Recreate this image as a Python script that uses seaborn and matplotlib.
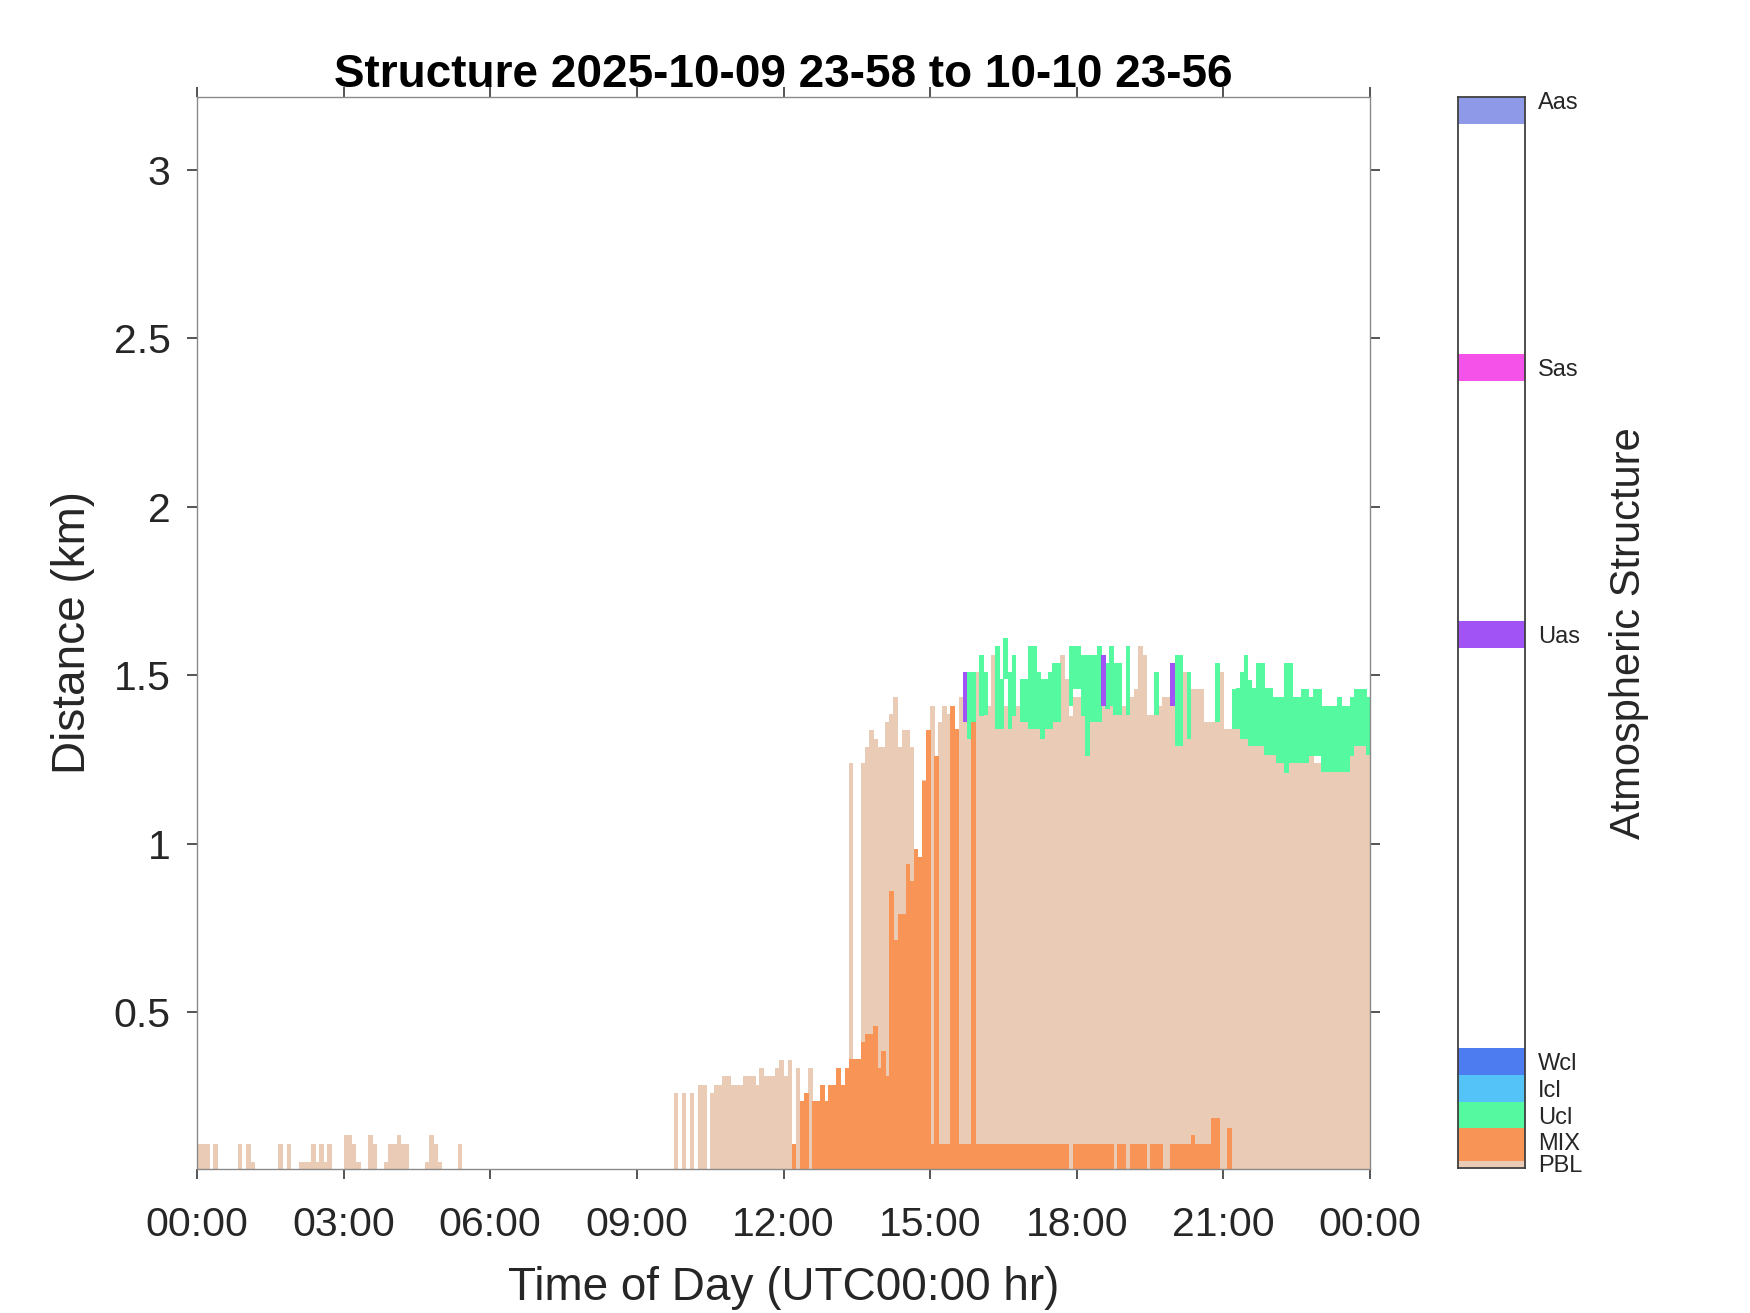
import numpy as np
import matplotlib
matplotlib.use('Agg')
import matplotlib.pyplot as plt
import seaborn as sns

# one column every 5 minutes from 00:00 to 24:00 (288 columns), heights in km
# top of the PBL (beige) layer, 0 = no data
pbl_top = [
    0.107, 0.107, 0.107, 0, 0.107, 0, 0, 0, 0, 0, 0.107, 0,                       # 00
    0.107, 0.055, 0, 0, 0, 0, 0, 0, 0.107, 0, 0.107, 0,                           # 01
    0, 0.055, 0.055, 0.055, 0.107, 0.055, 0.107, 0.055, 0.107, 0, 0, 0,           # 02
    0.135, 0.135, 0.107, 0.055, 0, 0, 0.135, 0.107, 0, 0, 0.055, 0.107,           # 03
    0.107, 0.135, 0.107, 0.107, 0, 0, 0, 0, 0.055, 0.135, 0.107, 0.055,           # 04
    0, 0, 0, 0, 0.107, 0, 0, 0, 0, 0, 0, 0,                                       # 05
    0, 0, 0, 0, 0, 0, 0, 0, 0, 0, 0, 0,                                           # 06
    0, 0, 0, 0, 0, 0, 0, 0, 0, 0, 0, 0,                                           # 07
    0, 0, 0, 0, 0, 0, 0, 0, 0, 0, 0, 0,                                           # 08
    0, 0, 0, 0, 0, 0, 0, 0, 0, 0.259, 0, 0.259,                                   # 09
    0, 0.259, 0, 0.284, 0.284, 0, 0.259, 0.284, 0.284, 0.31, 0.31, 0.284,         # 10
    0.284, 0.284, 0.31, 0.31, 0.31, 0.284, 0.334, 0.31, 0.31, 0.31, 0.334, 0.359, # 11
    0.31, 0.359, 0, 0.334, 0, 0, 0.334, 0, 0, 0, 0, 0,                            # 12
    0, 0, 0, 0, 1.24, 0, 0, 1.24, 1.286, 1.337, 1.31, 1.286,                      # 13
    1.286, 1.36, 1.385, 1.435, 1.286, 1.337, 1.337, 1.286, 0, 0, 1.19, 0,         # 14
    1.41, 0, 1.36, 1.41, 1.385, 0, 0, 1.435, 1.36, 1.31, 0, 1.51,                 # 15
    1.38, 1.41, 1.41, 1.56, 1.34, 1.34, 1.41, 1.34, 1.38, 1.41, 1.36, 1.36,       # 16
    1.34, 1.34, 1.34, 1.31, 1.34, 1.34, 1.36, 1.36, 1.56, 1.49, 1.38, 1.435,      # 17
    1.435, 1.38, 1.26, 1.36, 1.36, 1.36, 1.41, 1.40, 1.41, 1.383, 1.383, 1.41,    # 18
    1.383, 1.435, 1.46, 1.586, 1.56, 1.383, 1.383, 1.383, 1.41, 1.435, 1.435, 1.41,  # 19
    1.29, 1.29, 1.51, 1.31, 1.46, 1.46, 1.46, 1.36, 1.36, 1.36, 1.36, 1.51,       # 20
    1.34, 1.34, 1.34, 1.34, 1.31, 1.31, 1.29, 1.29, 1.29, 1.29, 1.262, 1.262,     # 21
    1.262, 1.24, 1.24, 1.21, 1.24, 1.24, 1.24, 1.24, 1.24, 1.26, 1.24, 1.24,      # 22
    1.213, 1.213, 1.213, 1.213, 1.213, 1.213, 1.213, 1.26, 1.29, 1.29, 1.29, 1.262,  # 23
]

# top of the mixing layer (orange), 0 = none
mix_top = [
    0, 0, 0, 0, 0, 0, 0, 0, 0, 0, 0, 0,                                           # 00
    0, 0, 0, 0, 0, 0, 0, 0, 0, 0, 0, 0,                                           # 01
    0, 0, 0, 0, 0, 0, 0, 0, 0, 0, 0, 0,                                           # 02
    0, 0, 0, 0, 0, 0, 0, 0, 0, 0, 0, 0,                                           # 03
    0, 0, 0, 0, 0, 0, 0, 0, 0, 0, 0, 0,                                           # 04
    0, 0, 0, 0, 0, 0, 0, 0, 0, 0, 0, 0,                                           # 05
    0, 0, 0, 0, 0, 0, 0, 0, 0, 0, 0, 0,                                           # 06
    0, 0, 0, 0, 0, 0, 0, 0, 0, 0, 0, 0,                                           # 07
    0, 0, 0, 0, 0, 0, 0, 0, 0, 0, 0, 0,                                           # 08
    0, 0, 0, 0, 0, 0, 0, 0, 0, 0, 0, 0,                                           # 09
    0, 0, 0, 0, 0, 0, 0, 0, 0, 0, 0, 0,                                           # 10
    0, 0, 0, 0, 0, 0, 0, 0, 0, 0, 0, 0,                                           # 11
    0, 0, 0.109, 0, 0.235, 0.26, 0, 0.235, 0.235, 0.284, 0.235, 0.284,            # 12
    0.284, 0.334, 0.284, 0.334, 0.36, 0.36, 0.36, 0.41, 0.436, 0.436, 0.46, 0.334,  # 13
    0.385, 0.31, 0.86, 0.713, 0.79, 0.79, 0.94, 0.89, 0.985, 0.96, 1.185, 1.337,  # 14
    0.109, 1.26, 0.109, 0.109, 0.109, 1.41, 1.34, 0.109, 0.109, 0.109, 1.36, 0.109,  # 15
    0.109, 0.109, 0.109, 0.109, 0.109, 0.109, 0.109, 0.109, 0.109, 0.109, 0.109, 0.109,  # 16
    0.109, 0.109, 0.109, 0.109, 0.109, 0.109, 0.109, 0.109, 0.109, 0.109, 0, 0.109,  # 17
    0.109, 0.109, 0.109, 0.109, 0.109, 0.109, 0.109, 0.109, 0.109, 0, 0.109, 0.109,  # 18
    0, 0.109, 0.109, 0.109, 0.109, 0, 0.109, 0.109, 0.109, 0, 0, 0.109,           # 19
    0.109, 0.109, 0.109, 0.109, 0.135, 0.109, 0.109, 0.109, 0.109, 0.185, 0.185, 0,  # 20
    0, 0.157, 0, 0, 0, 0, 0, 0, 0, 0, 0, 0,                                       # 21
    0, 0, 0, 0, 0, 0, 0, 0, 0, 0, 0, 0,                                           # 22
    0, 0, 0, 0, 0, 0, 0, 0, 0, 0, 0, 0,                                           # 23
]

# undefined cloud (green) cells: 5-minute column index, bottom and top in km
ucl_col = [189, 190, 192, 193, 196, 197, 198, 199, 200, 202, 203, 204, 205, 206,
           207, 208, 209, 210, 211, 214, 215, 216, 217, 218, 219, 220, 221, 223,
           224, 225, 226, 228, 235, 240, 241, 243, 250, 254, 255, 256, 257, 258,
           259, 260, 261, 262, 263, 264, 265, 266, 267, 268, 269, 270, 271, 272,
           273, 274, 275, 276, 277, 278, 279, 280, 281, 282, 283, 284, 285, 286, 287]
ucl_lo = [1.31, 1.36, 1.38, 1.383, 1.34, 1.34, 1.49, 1.34, 1.38, 1.36, 1.36, 1.34, 1.34, 1.34,
          1.31, 1.34, 1.34, 1.36, 1.36, 1.41, 1.46, 1.46, 1.38, 1.26, 1.36, 1.36, 1.36, 1.40,
          1.41, 1.383, 1.383, 1.383, 1.383, 1.29, 1.29, 1.31, 1.36, 1.34, 1.34, 1.31, 1.31, 1.29,
          1.29, 1.29, 1.29, 1.262, 1.262, 1.262, 1.24, 1.24, 1.21, 1.24, 1.24, 1.24, 1.24, 1.24,
          1.26, 1.26, 1.26, 1.213, 1.213, 1.213, 1.213, 1.213, 1.213, 1.213, 1.26, 1.29, 1.29, 1.29, 1.262]
ucl_hi = [1.51, 1.51, 1.56, 1.51, 1.586, 1.49, 1.61, 1.51, 1.56, 1.49, 1.49, 1.586, 1.586, 1.51,
          1.49, 1.49, 1.51, 1.537, 1.537, 1.586, 1.586, 1.586, 1.56, 1.56, 1.56, 1.56, 1.586, 1.537,
          1.586, 1.537, 1.537, 1.586, 1.51, 1.56, 1.56, 1.51, 1.537, 1.46, 1.462, 1.51, 1.56, 1.487,
          1.462, 1.537, 1.537, 1.462, 1.462, 1.435, 1.435, 1.435, 1.537, 1.537, 1.435, 1.435, 1.46, 1.46,
          1.435, 1.46, 1.46, 1.41, 1.41, 1.41, 1.41, 1.435, 1.41, 1.41, 1.435, 1.46, 1.46, 1.46, 1.435]

# undefined aerosol (purple) cells
uas_col = [188, 222, 239]
uas_lo = [1.36, 1.41, 1.41]
uas_hi = [1.51, 1.56, 1.537]

# colorbar categories
cat_names = ['PBL', 'MIX', 'Ucl', 'Icl', 'Wcl', 'Uas', 'Sas', 'Aas']
cat_values = [0.2, 1, 2, 3, 4, 20, 30, 40]
cat_lo = [0.03, 0.28, 1.5, 2.5, 3.5, 19.5, 29.5, 39.13]
cat_hi = [0.28, 1.5, 2.5, 3.5, 4.5, 20.5, 30.5, 40.13]
cat_colors = ['#EACBB5', '#F89456', '#54F9A0', '#54C3F8', '#4D7CF1',
              '#A253F5', '#F552EA', '#8E99E8']
colors = dict(zip(cat_names, cat_colors))

x_hours = [0, 3, 6, 9, 12, 15, 18, 21, 24]
x_labels = ['00:00', '03:00', '06:00', '09:00', '12:00', '15:00', '18:00', '21:00', '00:00']
y_ticks = [0.5, 1, 1.5, 2, 2.5, 3]
y_labels = ['0.5', '1', '1.5', '2', '2.5', '3']

sns.set_style('white')
plt.rcParams['font.family'] = ['Liberation Sans', 'DejaVu Sans']

W, H = 1750, 1313
fig = plt.figure(figsize=(W / 100, H / 100), dpi=100)
ax = fig.add_axes([197 / W, 1 - 1169 / H, 1173 / W, 1072 / H])

step = 1 / 12
t = np.arange(len(pbl_top)) * step
# a hair wider than one column so neighbouring cells leave no seam
bar_kw = dict(width=step + 0.012, align='edge', linewidth=0, antialiased=False)

pbl = np.array(pbl_top)
m = pbl > 0
ax.bar(t[m], pbl[m], color=colors['PBL'], **bar_kw)

mix = np.array(mix_top)
m = mix > 0
ax.bar(t[m], mix[m], color=colors['MIX'], **bar_kw)

lo, hi = np.array(ucl_lo), np.array(ucl_hi)
ax.bar(np.array(ucl_col) * step, hi - lo, bottom=lo, color=colors['Ucl'], **bar_kw)

lo, hi = np.array(uas_lo), np.array(uas_hi)
ax.bar(np.array(uas_col) * step, hi - lo, bottom=lo, color=colors['Uas'], **bar_kw)

ax.set_xlim(0, 24)
ax.set_ylim(0.034, 3.217)
ax.set_xticks(x_hours, x_labels)
ax.set_yticks(y_ticks, y_labels)
ax.tick_params(axis='both', which='both', direction='out', length=7, width=1.1,
               color='#262626', labelcolor='#262626', labelsize=29.5,
               top=True, right=True, bottom=True, left=True)
ax.tick_params(axis='x', pad=20)
ax.tick_params(axis='y', pad=12)
for s in ax.spines.values():
    s.set_color('#8a8a8a')
    s.set_linewidth(1.0)

fig.text(783.5 / W, 1 - 87 / H, 'Structure 2025-10-09 23-58 to 10-10 23-56',
         ha='center', va='baseline', fontsize=33, fontweight='bold', color='black')
fig.text(783.5 / W, 1 - 1300 / H, 'Time of Day (UTC00:00 hr)',
         ha='center', va='baseline', fontsize=33, color='#262626')
fig.text(85 / W, 1 - 633 / H, 'Distance (km)', rotation=90, rotation_mode='anchor',
         ha='center', va='baseline', fontsize=33, color='#262626')

# categorical colorbar
cax = fig.add_axes([1457.5 / W, 1 - 1167.7 / H, 67 / W, 1070.7 / H])
for name, a, b in zip(cat_names, cat_lo, cat_hi):
    cax.axhspan(a, b, color=colors[name], linewidth=0)
cax.set_xlim(0, 1)
cax.set_ylim(0.03, 40.13)
cax.set_xticks([])
cax.yaxis.tick_right()
cax.set_yticks(cat_values, cat_names)
cax.tick_params(axis='y', direction='in', length=4.5, width=1.1, color='#262626',
                labelcolor='#262626', labelsize=17, pad=9.5)
cax.yaxis.get_major_ticks()[-1].tick2line.set_visible(False)
for s in cax.spines.values():
    s.set_color('#404040')
    s.set_linewidth(1.3)
fig.text(1640 / W, 1 - 633 / H, 'Atmospheric Structure', rotation=90, rotation_mode='anchor',
         ha='center', va='baseline', fontsize=30, color='#262626')

fig.savefig('out.png', dpi=100)
